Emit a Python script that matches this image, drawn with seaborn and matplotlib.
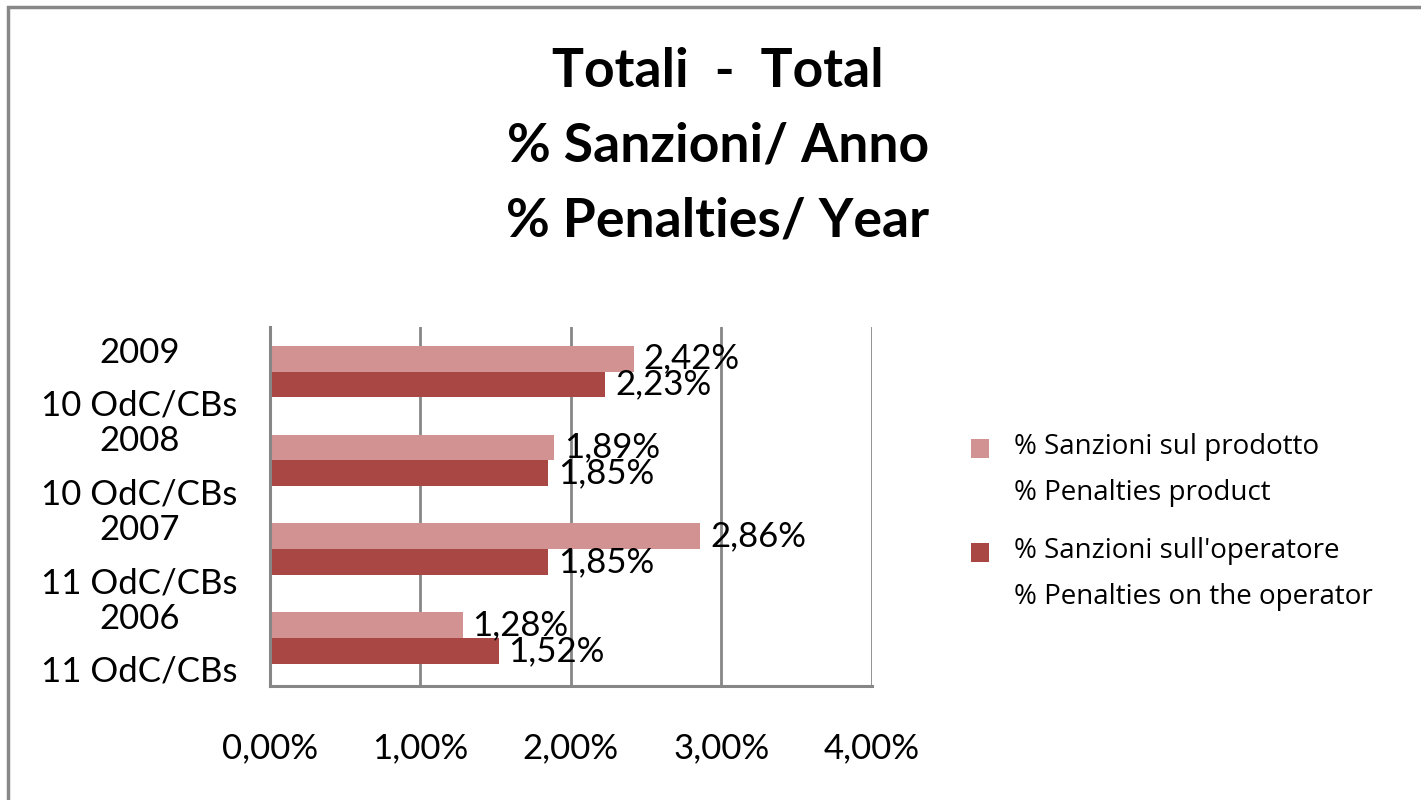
import matplotlib
matplotlib.use("Agg")
import matplotlib.pyplot as plt
import seaborn as sns
import pandas as pd
from matplotlib.patches import Rectangle, Patch
from matplotlib.legend_handler import HandlerPatch
from matplotlib.transforms import ScaledTranslation

# ---- data ----
categories = ["2009\n10 OdC/CBs", "2008\n10 OdC/CBs", "2007\n11 OdC/CBs", "2006\n11 OdC/CBs"]
series_names = ["% Sanzioni sul prodotto\n% Penalties product",
                "% Sanzioni sull'operatore\n% Penalties on the operator"]
product_vals = [2.42, 1.89, 2.86, 1.28]
operator_vals = [2.23, 1.85, 1.85, 1.52]
x_ticks = [0, 1, 2, 3, 4]
x_tick_labels = ["0,00%", "1,00%", "2,00%", "3,00%", "4,00%"]
title_text = "Totali  -  Total\n% Sanzioni/ Anno\n% Penalties/ Year"

colors = ["#D39292", "#A94745"]

df = pd.DataFrame({
    "cat": categories * 2,
    "series": [series_names[0]] * 4 + [series_names[1]] * 4,
    "val": product_vals + operator_vals,
})

sns.set_theme(style="white")
plt.rcParams["font.family"] = ["Lato", "DejaVu Sans"]
plt.rcParams["text.color"] = "black"

fig = plt.figure(figsize=(14.21, 8.0), dpi=100)
ax = fig.add_axes([0.190, 0.1425, 0.4235, 0.4485])

sns.barplot(data=df, y="cat", x="val", hue="series", order=categories,
            hue_order=series_names, palette=colors, orient="h",
            width=0.58, saturation=1, ax=ax, legend=False, linewidth=0)

ax.set_xlim(0, 4)
ax.set_ylim(3.54, -0.5)
ax.set_xticks(x_ticks)
ax.set_xticklabels(x_tick_labels, fontsize=25)
ax.tick_params(axis="x", length=0, pad=33, labelcolor="black")
ax.tick_params(axis="y", length=0, pad=94, labelsize=25, labelcolor="black")
shift = ScaledTranslation(0, 6 / 100, fig.dpi_scale_trans)
for lbl in ax.get_yticklabels():
    lbl.set_horizontalalignment("center")
    lbl.set_linespacing(1.8)
    lbl.set_transform(lbl.get_transform() + shift)
ax.set_xlabel("")
ax.set_ylabel("")

ax.grid(False)
ax.xaxis.grid(True, color="#868686", linewidth=2)
ax.set_axisbelow(True)
for s in ["top", "right"]:
    ax.spines[s].set_visible(False)
for s in ["left", "bottom"]:
    ax.spines[s].set_color("#868686")
    ax.spines[s].set_linewidth(2.2)

for cont in ax.containers:
    labels = [f"{v:.2f}%".replace(".", ",") for v in cont.datavalues]
    ax.bar_label(cont, labels=labels, padding=7, fontsize=25, color="black",
                 clip_on=False)


def top_patch(legend, orig_handle, xdescent, ydescent, width, height, fontsize):
    return Rectangle((-xdescent, -ydescent + 16), width, height)


handles = [Patch(facecolor=c, edgecolor="none", label=n)
           for c, n in zip(colors, series_names)]
leg = ax.legend(handles=handles, loc="upper left", bbox_to_anchor=(0.683, 0.459),
                bbox_transform=fig.transFigure, frameon=False,
                prop={"family": "Open Sans", "size": 20},
                handlelength=0.68, handleheight=0.68, labelspacing=1.1,
                handletextpad=0.9, borderaxespad=0, borderpad=0,
                handler_map={h: HandlerPatch(patch_func=top_patch) for h in handles})
for t in leg.get_texts():
    t.set_linespacing(1.85)
    t.set_color("black")

fig.text(0.505, 0.817, title_text, ha="center", va="center", fontsize=38.5,
         fontweight="bold", linespacing=1.65, color="black")

fig.patches.append(Rectangle((8 / 1421, -0.1), 1.2, 1.1 - 7 / 800,
                             transform=fig.transFigure, fill=False,
                             edgecolor="#888888", linewidth=2.5))

fig.savefig("out.png", dpi=100)
